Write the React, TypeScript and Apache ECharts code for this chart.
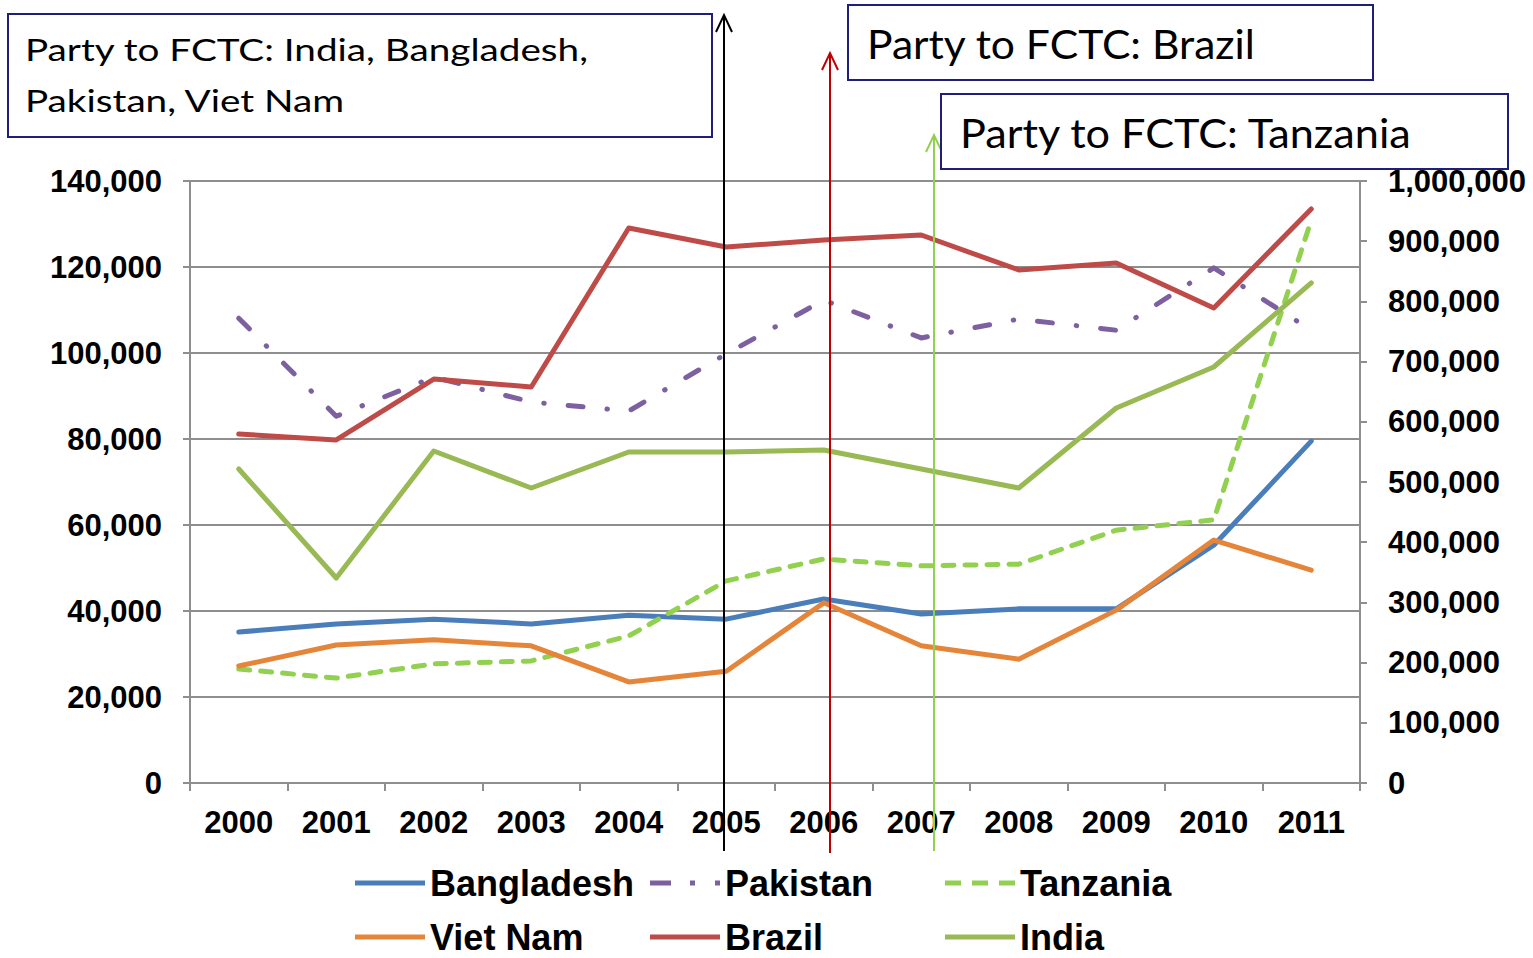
import React, { useEffect, useRef } from "react";
import * as echarts from "echarts";

const years = ["2000", "2001", "2002", "2003", "2004", "2005", "2006", "2007", "2008", "2009", "2010", "2011"];
// left axis (tonnes)
const bangladesh = [35100, 37000, 38100, 37000, 39000, 38100, 42800, 39300, 40500, 40500, 55300, 79500];
const pakistan = [108100, 85300, 94400, 88600, 86500, 99800, 112300, 103500, 107900, 105300, 119800, 105300];
const tanzania = [26500, 24400, 27700, 28400, 34200, 47000, 52100, 50500, 50900, 58800, 61200, 130900];
const vietNam = [27200, 32100, 33300, 31900, 23500, 26000, 41900, 31900, 28800, 40200, 56500, 49500];
// right axis (tonnes)
const brazil = [579700, 569800, 671000, 657800, 921900, 890400, 902000, 910300, 852200, 863800, 789000, 953500];
const india = [521600, 340500, 551500, 490000, 549800, 549800, 553200, 521600, 490000, 623000, 691000, 830600];

const axisGray = "#8E8E8E";
const labelFont = { fontFamily: "Liberation Sans, Arial, sans-serif", fontWeight: "bold" as const, fontSize: 31, color: "#000" };
const boxFont = "Lato, 'Open Sans', sans-serif";
const boxBorder = "#1F1F7A";

const ICON_SOLID = "path://M0 0H70V5H0Z";
const ICON_DASHDOT = "path://M0 0H21V5H0Z M40 0H45V5H40Z M65 0H70V5H65Z";
const ICON_DASH = "path://M0 0H16V5H0Z M27 0H43V5H27Z M54 0H70V5H54Z";

function fmt(v: number) {
  return v.toLocaleString("en-US");
}

export default function App() {
  const ref = useRef<HTMLDivElement>(null);
  useEffect(() => {
    document.body.style.margin = "0";
    const chart = echarts.init(ref.current!, null, { renderer: "svg" });
    const line = (name: string, data: number[], color: string, yAxisIndex: number, type: any = "solid") => ({
      name,
      type: "line",
      data,
      yAxisIndex,
      symbol: "none",
      lineStyle: { color, width: 5, type, cap: "round", join: "round" },
      itemStyle: { color },
    });
    const arrow = (x: number, top: number, bottom: number, color: string) => [
      { type: "line", shape: { x1: x, y1: top, x2: x, y2: bottom }, style: { stroke: color, lineWidth: 2 }, z: 50 },
      { type: "polyline", shape: { points: [[x - 8, top + 17], [x, top], [x + 8, top + 17]] }, style: { stroke: color, lineWidth: 2, fill: null }, z: 50 },
    ];
    const rect = (x: number, y: number, w: number, h: number) => ({
      type: "rect",
      shape: { x, y, width: w, height: h },
      style: { fill: "#fff", stroke: boxBorder, lineWidth: 2 },
      z: 60,
    });
    const txt = (text: string, x: number, y: number, size: number, sx: number) => ({
      type: "text",
      x,
      y,
      scaleX: sx,
      style: { text, font: `${size}px ${boxFont}`, fill: "#000", verticalAlign: "middle", align: "left" },
      z: 61,
    });
    const legendCommon = {
      type: "plain",
      orient: "vertical",
      itemWidth: 70,
      itemHeight: 5,
      itemGap: 18,
      padding: 0,
      top: 865,
      height: 100,
      itemStyle: { borderWidth: 0 },
      lineStyle: { width: 0, type: "solid" },
      textStyle: { fontFamily: "Liberation Sans, Arial, sans-serif", fontWeight: "bold", fontSize: 36, color: "#000", lineHeight: 32 },
    };
    chart.setOption({
      animation: false,
      backgroundColor: "#fff",
      grid: { left: 190, right: 173, top: 181, bottom: 175 },
      legend: [
        { ...legendCommon, left: 355, data: [{ name: "Bangladesh", icon: ICON_SOLID }, { name: "Viet Nam", icon: ICON_SOLID }] },
        { ...legendCommon, left: 650, data: [{ name: "Pakistan", icon: ICON_DASHDOT }, { name: "Brazil", icon: ICON_SOLID }] },
        { ...legendCommon, left: 945, data: [{ name: "Tanzania", icon: ICON_DASH }, { name: "India", icon: ICON_SOLID }] },
      ],
      xAxis: {
        type: "category",
        data: years,
        boundaryGap: true,
        axisLine: { lineStyle: { color: axisGray, width: 2 } },
        axisTick: { show: true, length: 8, lineStyle: { color: axisGray, width: 2 } },
        axisLabel: { ...labelFont, margin: 24 },
      },
      yAxis: [
        {
          type: "value",
          min: 0,
          max: 140000,
          interval: 20000,
          axisLine: { show: true, lineStyle: { color: axisGray, width: 2 } },
          axisTick: { show: true, length: 7, lineStyle: { color: axisGray, width: 2 } },
          splitLine: { show: true, lineStyle: { color: axisGray, width: 2 } },
          axisLabel: { ...labelFont, margin: 28, formatter: fmt },
        },
        {
          type: "value",
          min: 0,
          max: 1000000,
          interval: 100000,
          axisLine: { show: true, lineStyle: { color: axisGray, width: 2 } },
          axisTick: { show: true, length: 7, lineStyle: { color: axisGray, width: 2 } },
          splitLine: { show: false },
          axisLabel: { ...labelFont, margin: 28, formatter: fmt },
        },
      ],
      series: [
        line("Bangladesh", bangladesh, "#4A7EBB", 0),
        line("Pakistan", pakistan, "#7D60A0", 0, [15, 24, 0.5, 24]),
        line("Tanzania", tanzania, "#92D050", 0, [11, 11]),
        line("Viet Nam", vietNam, "#E5853A", 0),
        line("Brazil", brazil, "#BE4B48", 1),
        line("India", india, "#98B954", 1),
      ],
      graphic: [
        ...arrow(724, 15, 851, "#000000"),
        ...arrow(830, 53, 853, "#C00000"),
        ...arrow(934, 135, 851, "#92D050"),
        rect(8, 14, 704, 123),
        txt("Party to FCTC: India, Bangladesh,", 25, 49, 30, 1.29),
        txt("Pakistan, Viet Nam", 25, 100, 30, 1.29),
        rect(848, 5, 525, 75),
        txt("Party to FCTC: Brazil", 867, 44, 40, 1.065),
        rect(941, 94, 567, 75),
        txt("Party to FCTC: Tanzania", 960, 133, 40, 1.08),
      ],
    });
    return () => chart.dispose();
  }, []);
  return <div ref={ref} style={{ position: "absolute", left: 0, top: 0, width: 1533, height: 958 }} />;
}
